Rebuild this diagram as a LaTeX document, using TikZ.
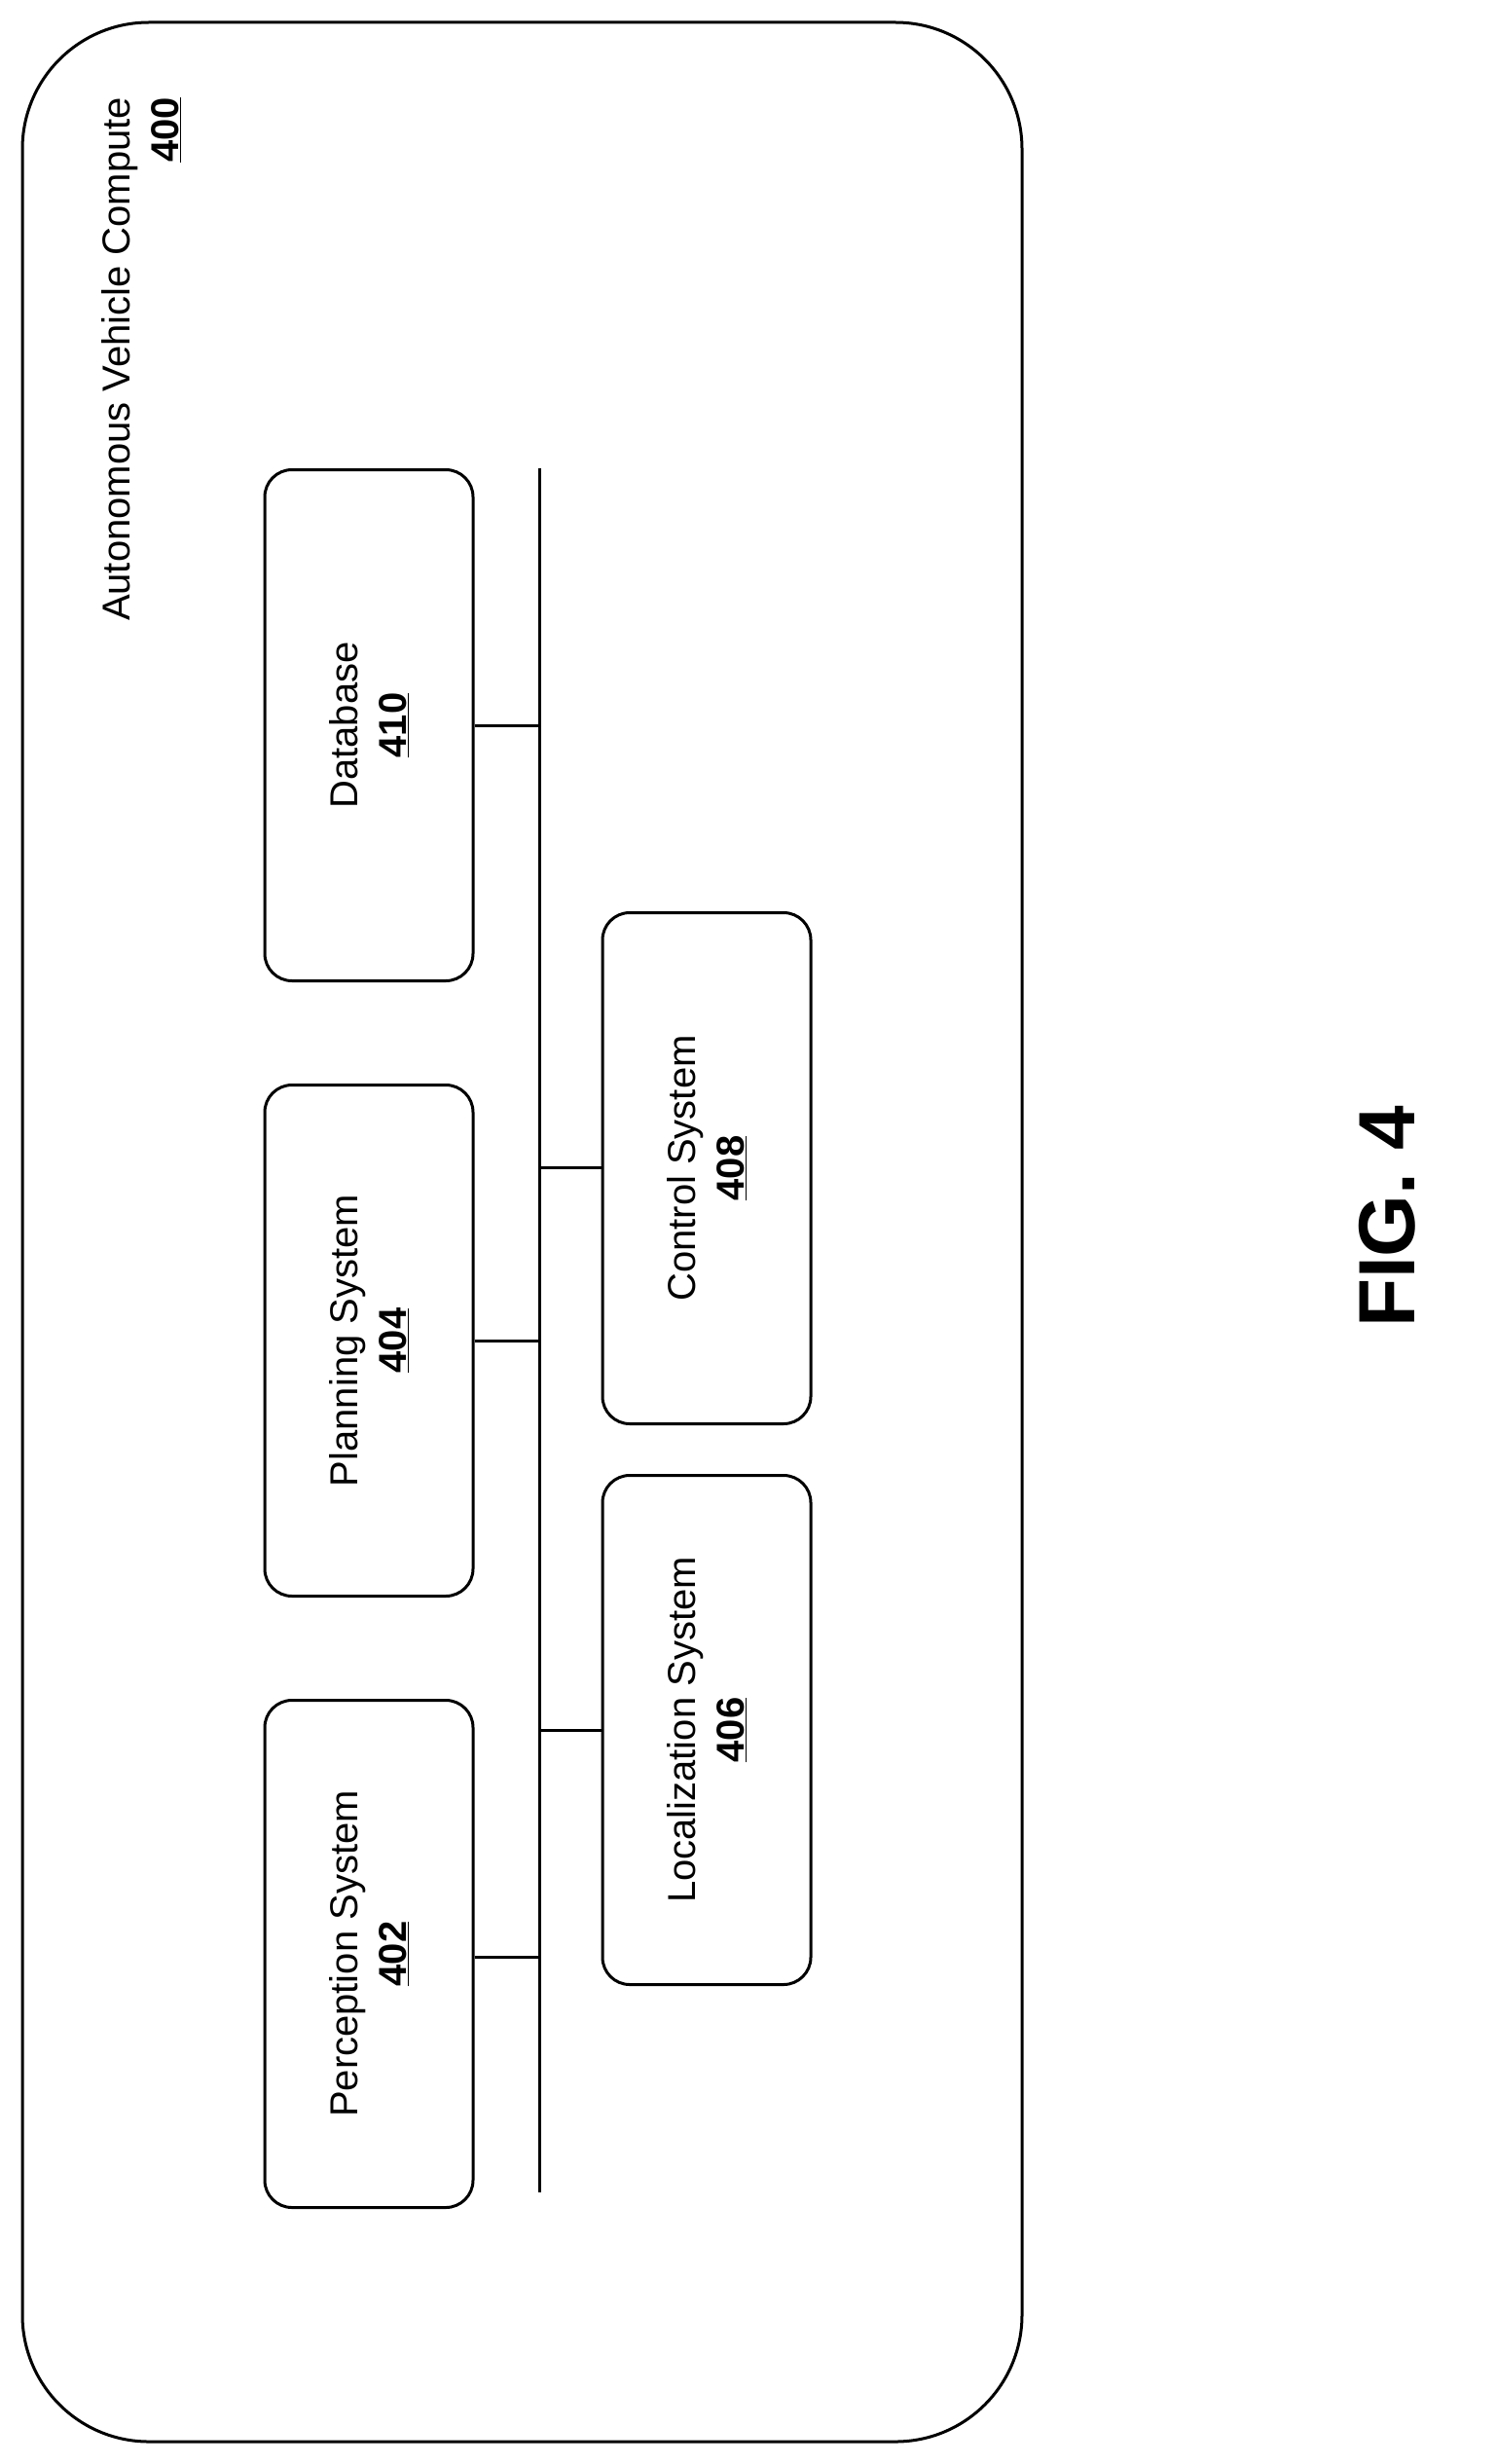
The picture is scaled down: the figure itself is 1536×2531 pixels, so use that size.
\documentclass[tikz,border=0pt]{standalone}
\usepackage{fontspec}
\setmainfont{Liberation Sans}
\begin{document}
\begin{tikzpicture}[x=1pt,y=-1pt,line width=3pt,
  blk/.style={draw,rounded corners=28pt,minimum width=214pt,minimum height=525pt,align=center,font=\fontsize{40}{50}\selectfont},
  lbl/.style={rotate=90,align=center,font=\fontsize{40}{50}\selectfont}]
\useasboundingbox (0,0) rectangle (1536,2531);
\node[draw,rounded corners=130pt,minimum width=1027pt,minimum height=2485pt] (outer) at (536.5,1265.5) {};
\node[lbl,anchor=north east,align=right] (title) at (100,95) {Autonomous Vehicle Compute\\\underline{\textbf{400}}};
\node[blk] (db) at (379,745) {}; \node[lbl] at (db) {Database\\\underline{\textbf{410}}};
\node[blk] (plan) at (379,1377) {}; \node[lbl] at (plan) {Planning System\\\underline{\textbf{404}}};
\node[blk,minimum height=521pt] (perc) at (379,2007) {}; \node[lbl] at (perc) {Perception System\\\underline{\textbf{402}}};
\node[blk] (ctrl) at (726,1200) {}; \node[lbl] at (ctrl) {Control System\\\underline{\textbf{408}}};
\node[blk,minimum height=523pt] (loc) at (726,1777) {}; \node[lbl] at (loc) {Localization System\\\underline{\textbf{406}}};
\coordinate (bt) at (554,481); \coordinate (bb) at (554,2252);
\draw (bt) -- (bb);
\draw (db.east |- 0,745) -- (554,745);
\draw (plan.east |- 0,1377) -- (554,1377);
\draw (perc.east |- 0,2010) -- (554,2010);
\draw (ctrl.west |- 0,1199) -- (554,1199);
\draw (loc.west |- 0,1777) -- (554,1777);
\node[rotate=90,font=\fontsize{82}{90}\selectfont\bfseries] (fig) at (1425,1250) {FIG. 4};
\end{tikzpicture}
\end{document}
